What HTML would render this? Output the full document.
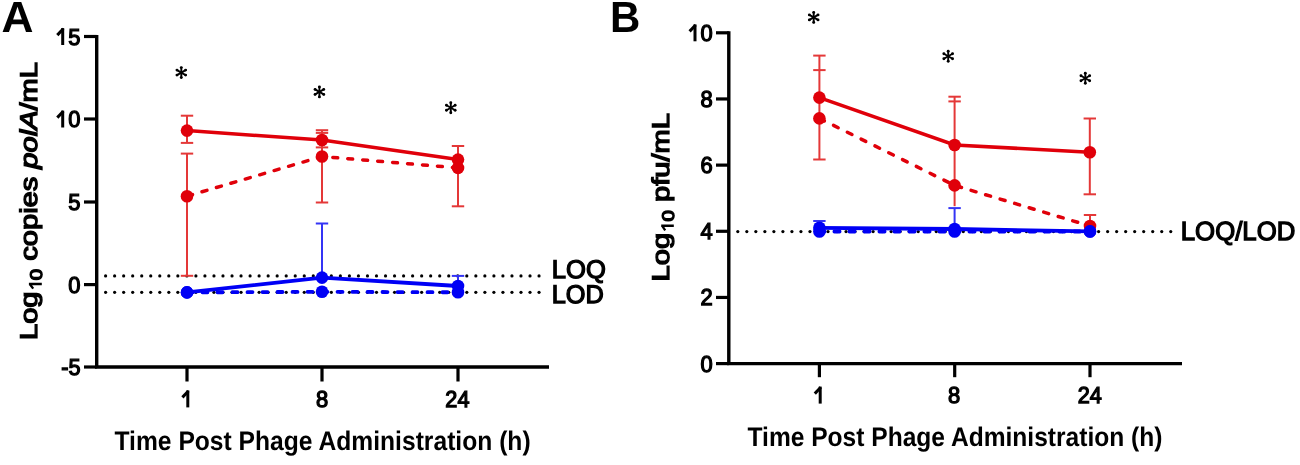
<!DOCTYPE html>
<html><head><meta charset="utf-8"><style>
html,body{margin:0;padding:0;background:#fff;width:1300px;height:465px;overflow:hidden;}
.wrap{position:absolute;left:0;top:0;width:1300px;height:465px;will-change:transform;}
svg{display:block;}
text{font-family:"Liberation Sans", sans-serif;fill:#000;stroke:#000;text-rendering:geometricPrecision;}
</style></head><body>
<div class="wrap"><svg width="1300" height="465" viewBox="0 0 1300 465">
<rect width="1300" height="465" fill="#fff"/>
<path d="M96.7,34.9 V367.0 H549" fill="none" stroke="#000" stroke-width="3.4"/>
<line x1="84" y1="36.5" x2="96.7" y2="36.5" stroke="#000" stroke-width="3.2"/>
<text x="80.5" y="44.5" font-size="23.0" text-anchor="end" font-weight="normal" stroke-width="1.3" textLength="12.2" lengthAdjust="spacingAndGlyphs">5</text>
<path d="M62.70,28.10 V45.00" stroke="#000" stroke-width="3.0" fill="none"/><path d="M57.30,35.10 L63.30,28.70" stroke="#000" stroke-width="3.0" fill="none"/>
<line x1="84" y1="119.0" x2="96.7" y2="119.0" stroke="#000" stroke-width="3.2"/>
<text x="80.5" y="127.0" font-size="23.0" text-anchor="end" font-weight="normal" stroke-width="1.3" textLength="12.2" lengthAdjust="spacingAndGlyphs">0</text>
<path d="M62.70,110.60 V127.50" stroke="#000" stroke-width="3.0" fill="none"/><path d="M57.30,117.60 L63.30,111.20" stroke="#000" stroke-width="3.0" fill="none"/>
<line x1="84" y1="202.0" x2="96.7" y2="202.0" stroke="#000" stroke-width="3.2"/>
<text x="80.5" y="210.0" font-size="23.0" text-anchor="end" font-weight="normal" stroke-width="1.3" textLength="12.2" lengthAdjust="spacingAndGlyphs">5</text>
<line x1="84" y1="284.6" x2="96.7" y2="284.6" stroke="#000" stroke-width="3.2"/>
<text x="80.5" y="292.6" font-size="23.0" text-anchor="end" font-weight="normal" stroke-width="1.3" textLength="12.2" lengthAdjust="spacingAndGlyphs">0</text>
<line x1="84" y1="367.0" x2="96.7" y2="367.0" stroke="#000" stroke-width="3.2"/>
<text x="80.5" y="375.0" font-size="23.0" text-anchor="end" font-weight="normal" stroke-width="1.3" textLength="19.3" lengthAdjust="spacingAndGlyphs">-5</text>
<line x1="187" y1="367.0" x2="187" y2="381.5" stroke="#000" stroke-width="3.2"/>
<path d="M187.80,390.40 V407.40" stroke="#000" stroke-width="3.0" fill="none"/><path d="M182.40,397.40 L188.40,391.00" stroke="#000" stroke-width="3.0" fill="none"/>
<line x1="322" y1="367.0" x2="322" y2="381.5" stroke="#000" stroke-width="3.2"/>
<text x="322" y="406.8" font-size="23.0" text-anchor="middle" font-weight="normal" stroke-width="1.3" textLength="12.2" lengthAdjust="spacingAndGlyphs">8</text>
<line x1="458" y1="367.0" x2="458" y2="381.5" stroke="#000" stroke-width="3.2"/>
<text x="457.4" y="406.8" font-size="23.0" text-anchor="middle" font-weight="normal" stroke-width="1.3" textLength="24.1" lengthAdjust="spacingAndGlyphs">24</text>
<g fill="#000"><circle cx="105.60" cy="275.9" r="1.6"/><circle cx="114.63" cy="275.9" r="1.6"/><circle cx="123.66" cy="275.9" r="1.6"/><circle cx="132.69" cy="275.9" r="1.6"/><circle cx="141.72" cy="275.9" r="1.6"/><circle cx="150.75" cy="275.9" r="1.6"/><circle cx="159.78" cy="275.9" r="1.6"/><circle cx="168.81" cy="275.9" r="1.6"/><circle cx="177.84" cy="275.9" r="1.6"/><circle cx="186.87" cy="275.9" r="1.6"/><circle cx="195.90" cy="275.9" r="1.6"/><circle cx="204.93" cy="275.9" r="1.6"/><circle cx="213.96" cy="275.9" r="1.6"/><circle cx="222.99" cy="275.9" r="1.6"/><circle cx="232.02" cy="275.9" r="1.6"/><circle cx="241.05" cy="275.9" r="1.6"/><circle cx="250.08" cy="275.9" r="1.6"/><circle cx="259.11" cy="275.9" r="1.6"/><circle cx="268.14" cy="275.9" r="1.6"/><circle cx="277.17" cy="275.9" r="1.6"/><circle cx="286.20" cy="275.9" r="1.6"/><circle cx="295.23" cy="275.9" r="1.6"/><circle cx="304.26" cy="275.9" r="1.6"/><circle cx="313.29" cy="275.9" r="1.6"/><circle cx="322.32" cy="275.9" r="1.6"/><circle cx="331.35" cy="275.9" r="1.6"/><circle cx="340.38" cy="275.9" r="1.6"/><circle cx="349.41" cy="275.9" r="1.6"/><circle cx="358.44" cy="275.9" r="1.6"/><circle cx="367.47" cy="275.9" r="1.6"/><circle cx="376.50" cy="275.9" r="1.6"/><circle cx="385.53" cy="275.9" r="1.6"/><circle cx="394.56" cy="275.9" r="1.6"/><circle cx="403.59" cy="275.9" r="1.6"/><circle cx="412.62" cy="275.9" r="1.6"/><circle cx="421.65" cy="275.9" r="1.6"/><circle cx="430.68" cy="275.9" r="1.6"/><circle cx="439.71" cy="275.9" r="1.6"/><circle cx="448.74" cy="275.9" r="1.6"/><circle cx="457.77" cy="275.9" r="1.6"/><circle cx="466.80" cy="275.9" r="1.6"/><circle cx="475.83" cy="275.9" r="1.6"/><circle cx="484.86" cy="275.9" r="1.6"/><circle cx="493.89" cy="275.9" r="1.6"/><circle cx="502.92" cy="275.9" r="1.6"/><circle cx="511.95" cy="275.9" r="1.6"/><circle cx="520.98" cy="275.9" r="1.6"/><circle cx="530.01" cy="275.9" r="1.6"/><circle cx="539.04" cy="275.9" r="1.6"/></g>
<g fill="#000"><circle cx="105.60" cy="292.3" r="1.6"/><circle cx="114.63" cy="292.3" r="1.6"/><circle cx="123.66" cy="292.3" r="1.6"/><circle cx="132.69" cy="292.3" r="1.6"/><circle cx="141.72" cy="292.3" r="1.6"/><circle cx="150.75" cy="292.3" r="1.6"/><circle cx="159.78" cy="292.3" r="1.6"/><circle cx="168.81" cy="292.3" r="1.6"/><circle cx="177.84" cy="292.3" r="1.6"/><circle cx="186.87" cy="292.3" r="1.6"/><circle cx="195.90" cy="292.3" r="1.6"/><circle cx="204.93" cy="292.3" r="1.6"/><circle cx="213.96" cy="292.3" r="1.6"/><circle cx="222.99" cy="292.3" r="1.6"/><circle cx="232.02" cy="292.3" r="1.6"/><circle cx="241.05" cy="292.3" r="1.6"/><circle cx="250.08" cy="292.3" r="1.6"/><circle cx="259.11" cy="292.3" r="1.6"/><circle cx="268.14" cy="292.3" r="1.6"/><circle cx="277.17" cy="292.3" r="1.6"/><circle cx="286.20" cy="292.3" r="1.6"/><circle cx="295.23" cy="292.3" r="1.6"/><circle cx="304.26" cy="292.3" r="1.6"/><circle cx="313.29" cy="292.3" r="1.6"/><circle cx="322.32" cy="292.3" r="1.6"/><circle cx="331.35" cy="292.3" r="1.6"/><circle cx="340.38" cy="292.3" r="1.6"/><circle cx="349.41" cy="292.3" r="1.6"/><circle cx="358.44" cy="292.3" r="1.6"/><circle cx="367.47" cy="292.3" r="1.6"/><circle cx="376.50" cy="292.3" r="1.6"/><circle cx="385.53" cy="292.3" r="1.6"/><circle cx="394.56" cy="292.3" r="1.6"/><circle cx="403.59" cy="292.3" r="1.6"/><circle cx="412.62" cy="292.3" r="1.6"/><circle cx="421.65" cy="292.3" r="1.6"/><circle cx="430.68" cy="292.3" r="1.6"/><circle cx="439.71" cy="292.3" r="1.6"/><circle cx="448.74" cy="292.3" r="1.6"/><circle cx="457.77" cy="292.3" r="1.6"/><circle cx="466.80" cy="292.3" r="1.6"/><circle cx="475.83" cy="292.3" r="1.6"/><circle cx="484.86" cy="292.3" r="1.6"/><circle cx="493.89" cy="292.3" r="1.6"/><circle cx="502.92" cy="292.3" r="1.6"/><circle cx="511.95" cy="292.3" r="1.6"/><circle cx="520.98" cy="292.3" r="1.6"/><circle cx="530.01" cy="292.3" r="1.6"/><circle cx="539.04" cy="292.3" r="1.6"/></g>
<line x1="187" y1="115.7" x2="187" y2="142.9" stroke="#e43838" stroke-width="2.0"/><line x1="180.8" y1="115.7" x2="193.2" y2="115.7" stroke="#e43838" stroke-width="2.0"/><line x1="180.8" y1="142.9" x2="193.2" y2="142.9" stroke="#e43838" stroke-width="2.0"/>
<line x1="322" y1="130.2" x2="322" y2="147.4" stroke="#e43838" stroke-width="2.0"/><line x1="315.8" y1="130.2" x2="328.2" y2="130.2" stroke="#e43838" stroke-width="2.0"/><line x1="315.8" y1="147.4" x2="328.2" y2="147.4" stroke="#e43838" stroke-width="2.0"/>
<line x1="458" y1="146.0" x2="458" y2="173.0" stroke="#e43838" stroke-width="2.0"/><line x1="451.8" y1="146.0" x2="464.2" y2="146.0" stroke="#e43838" stroke-width="2.0"/>
<line x1="187" y1="153.6" x2="187" y2="275.8" stroke="#e43838" stroke-width="2.0"/><line x1="180.8" y1="153.6" x2="193.2" y2="153.6" stroke="#e43838" stroke-width="2.0"/><line x1="180.8" y1="275.8" x2="193.2" y2="275.8" stroke="#e43838" stroke-width="2.0"/>
<line x1="322" y1="132.9" x2="322" y2="202.5" stroke="#e43838" stroke-width="2.0"/><line x1="315.8" y1="132.9" x2="328.2" y2="132.9" stroke="#e43838" stroke-width="2.0"/><line x1="315.8" y1="202.5" x2="328.2" y2="202.5" stroke="#e43838" stroke-width="2.0"/>
<line x1="458" y1="167.9" x2="458" y2="206.3" stroke="#e43838" stroke-width="2.0"/><line x1="451.8" y1="206.3" x2="464.2" y2="206.3" stroke="#e43838" stroke-width="2.0"/>
<polyline points="187,130.6 322,140.0 458,159.6" fill="none" stroke="#e0000a" stroke-width="3.5"/>
<line x1="187" y1="196.2" x2="322" y2="156.5" stroke="#e0000a" stroke-width="3.5" stroke-linecap="round" stroke-dasharray="5.10 9.94" stroke-dashoffset="-0.61"/>
<line x1="322" y1="156.5" x2="458" y2="167.9" stroke="#e0000a" stroke-width="3.5" stroke-linecap="round" stroke-dasharray="4.90 10.10" stroke-dashoffset="-10.85"/>
<circle cx="187" cy="130.6" r="6.3" fill="#e0000a"/><circle cx="322" cy="140.0" r="6.3" fill="#e0000a"/><circle cx="458" cy="159.6" r="6.3" fill="#e0000a"/>
<circle cx="187" cy="196.2" r="6.3" fill="#e0000a"/><circle cx="322" cy="156.5" r="6.3" fill="#e0000a"/><circle cx="458" cy="167.9" r="6.3" fill="#e0000a"/>
<line x1="322" y1="223.5" x2="322" y2="277.6" stroke="#3434f5" stroke-width="2.0"/><line x1="315.8" y1="223.5" x2="328.2" y2="223.5" stroke="#3434f5" stroke-width="2.0"/>
<line x1="458" y1="275.9" x2="458" y2="286" stroke="#3434f5" stroke-width="2.0"/><line x1="451.8" y1="275.9" x2="464.2" y2="275.9" stroke="#3434f5" stroke-width="2.0"/>
<polyline points="187,292.4 322,277.6 458,286.0" fill="none" stroke="#0000f5" stroke-width="3.8"/>
<polyline points="187,292.4 322,291.8 458,292.3" fill="none" stroke="#0000f5" stroke-width="3.8" stroke-dasharray="5.0 10.0" stroke-dashoffset="-0.5" stroke-linecap="round"/>
<circle cx="187" cy="292.4" r="6.3" fill="#0000f5"/><circle cx="322" cy="277.6" r="6.3" fill="#0000f5"/><circle cx="458" cy="286.0" r="6.3" fill="#0000f5"/>
<circle cx="187" cy="292.4" r="6.3" fill="#0000f5"/><circle cx="322" cy="291.8" r="6.3" fill="#0000f5"/><circle cx="458" cy="292.3" r="6.3" fill="#0000f5"/>
<g stroke="#000" stroke-width="1.9" stroke-linecap="round"><line x1="181.30" y1="67.60" x2="181.30" y2="77.60"/><line x1="176.97" y1="70.10" x2="185.63" y2="75.10"/><line x1="185.63" y1="70.10" x2="176.97" y2="75.10"/></g><g fill="#000"><circle cx="181.30" cy="67.60" r="1.45"/><circle cx="181.30" cy="77.60" r="1.45"/><circle cx="176.97" cy="70.10" r="1.45"/><circle cx="185.63" cy="75.10" r="1.45"/><circle cx="185.63" cy="70.10" r="1.45"/><circle cx="176.97" cy="75.10" r="1.45"/></g>
<g stroke="#000" stroke-width="1.9" stroke-linecap="round"><line x1="319.40" y1="86.90" x2="319.40" y2="96.90"/><line x1="315.07" y1="89.40" x2="323.73" y2="94.40"/><line x1="323.73" y1="89.40" x2="315.07" y2="94.40"/></g><g fill="#000"><circle cx="319.40" cy="86.90" r="1.45"/><circle cx="319.40" cy="96.90" r="1.45"/><circle cx="315.07" cy="89.40" r="1.45"/><circle cx="323.73" cy="94.40" r="1.45"/><circle cx="323.73" cy="89.40" r="1.45"/><circle cx="315.07" cy="94.40" r="1.45"/></g>
<g stroke="#000" stroke-width="1.9" stroke-linecap="round"><line x1="450.80" y1="102.70" x2="450.80" y2="112.70"/><line x1="446.47" y1="105.20" x2="455.13" y2="110.20"/><line x1="455.13" y1="105.20" x2="446.47" y2="110.20"/></g><g fill="#000"><circle cx="450.80" cy="102.70" r="1.45"/><circle cx="450.80" cy="112.70" r="1.45"/><circle cx="446.47" cy="105.20" r="1.45"/><circle cx="455.13" cy="110.20" r="1.45"/><circle cx="455.13" cy="105.20" r="1.45"/><circle cx="446.47" cy="110.20" r="1.45"/></g>
<text x="551.8" y="278.0" font-size="25.6" text-anchor="start" font-weight="normal" stroke-width="1.3" textLength="54" lengthAdjust="spacingAndGlyphs">LOQ</text>
<text x="551.7" y="303.1" font-size="25.6" text-anchor="start" font-weight="normal" stroke-width="1.3" textLength="52" lengthAdjust="spacingAndGlyphs">LOD</text>
<text x="1.4" y="32.4" font-size="43.6" text-anchor="start" font-weight="bold" stroke-width="0" textLength="32.0" lengthAdjust="spacingAndGlyphs">A</text>
<text x="114.5" y="449.6" font-size="26.8" text-anchor="start" font-weight="bold" stroke-width="0" textLength="416.1" lengthAdjust="spacingAndGlyphs">Time Post Phage Administration (h)</text>
<g transform="translate(37,340) rotate(-90)"><text x="0" y="0" font-size="24.2" stroke-width="1.3" textLength="278" lengthAdjust="spacingAndGlyphs">Log<tspan font-size="17" dy="5">&#x2007;0</tspan><tspan dy="-5"> copies </tspan><tspan font-style="italic">polA</tspan>/mL</text></g>
<path d="M728.8,31.199999999999996 V363.6 H1182" fill="none" stroke="#000" stroke-width="3.4"/>
<line x1="716" y1="32.80" x2="728.8" y2="32.80" stroke="#000" stroke-width="3.2"/>
<text x="712.6" y="40.80000000000007" font-size="23.0" text-anchor="end" font-weight="normal" stroke-width="1.3" textLength="12.2" lengthAdjust="spacingAndGlyphs">0</text>
<path d="M695.00,24.40 V41.30" stroke="#000" stroke-width="3.0" fill="none"/><path d="M689.60,31.40 L695.60,25.00" stroke="#000" stroke-width="3.0" fill="none"/>
<line x1="716" y1="98.96" x2="728.8" y2="98.96" stroke="#000" stroke-width="3.2"/>
<text x="712.6" y="106.96000000000004" font-size="23.0" text-anchor="end" font-weight="normal" stroke-width="1.3" textLength="12.2" lengthAdjust="spacingAndGlyphs">8</text>
<line x1="716" y1="165.12" x2="728.8" y2="165.12" stroke="#000" stroke-width="3.2"/>
<text x="712.6" y="173.12000000000003" font-size="23.0" text-anchor="end" font-weight="normal" stroke-width="1.3" textLength="12.2" lengthAdjust="spacingAndGlyphs">6</text>
<line x1="716" y1="231.28" x2="728.8" y2="231.28" stroke="#000" stroke-width="3.2"/>
<text x="712.6" y="239.28000000000003" font-size="23.0" text-anchor="end" font-weight="normal" stroke-width="1.3" textLength="12.2" lengthAdjust="spacingAndGlyphs">4</text>
<line x1="716" y1="297.44" x2="728.8" y2="297.44" stroke="#000" stroke-width="3.2"/>
<text x="712.6" y="305.44000000000005" font-size="23.0" text-anchor="end" font-weight="normal" stroke-width="1.3" textLength="12.2" lengthAdjust="spacingAndGlyphs">2</text>
<line x1="716" y1="363.60" x2="728.8" y2="363.60" stroke="#000" stroke-width="3.2"/>
<text x="712.6" y="371.6" font-size="23.0" text-anchor="end" font-weight="normal" stroke-width="1.3" textLength="12.2" lengthAdjust="spacingAndGlyphs">0</text>
<line x1="819.4" y1="363.6" x2="819.4" y2="377.2" stroke="#000" stroke-width="3.2"/>
<path d="M820.20,386.60 V403.60" stroke="#000" stroke-width="3.0" fill="none"/><path d="M814.80,393.60 L820.80,387.20" stroke="#000" stroke-width="3.0" fill="none"/>
<line x1="954.7" y1="363.6" x2="954.7" y2="377.2" stroke="#000" stroke-width="3.2"/>
<text x="954.1" y="402.9" font-size="23.0" text-anchor="middle" font-weight="normal" stroke-width="1.3" textLength="12.2" lengthAdjust="spacingAndGlyphs">8</text>
<line x1="1090" y1="363.6" x2="1090" y2="377.2" stroke="#000" stroke-width="3.2"/>
<text x="1089.7" y="402.9" font-size="23.0" text-anchor="middle" font-weight="normal" stroke-width="1.3" textLength="24.1" lengthAdjust="spacingAndGlyphs">24</text>
<g fill="#000"><circle cx="737.80" cy="231.6" r="1.6"/><circle cx="746.82" cy="231.6" r="1.6"/><circle cx="755.84" cy="231.6" r="1.6"/><circle cx="764.86" cy="231.6" r="1.6"/><circle cx="773.88" cy="231.6" r="1.6"/><circle cx="782.90" cy="231.6" r="1.6"/><circle cx="791.92" cy="231.6" r="1.6"/><circle cx="800.94" cy="231.6" r="1.6"/><circle cx="809.96" cy="231.6" r="1.6"/><circle cx="818.98" cy="231.6" r="1.6"/><circle cx="828.00" cy="231.6" r="1.6"/><circle cx="837.02" cy="231.6" r="1.6"/><circle cx="846.04" cy="231.6" r="1.6"/><circle cx="855.06" cy="231.6" r="1.6"/><circle cx="864.08" cy="231.6" r="1.6"/><circle cx="873.10" cy="231.6" r="1.6"/><circle cx="882.12" cy="231.6" r="1.6"/><circle cx="891.14" cy="231.6" r="1.6"/><circle cx="900.16" cy="231.6" r="1.6"/><circle cx="909.18" cy="231.6" r="1.6"/><circle cx="918.20" cy="231.6" r="1.6"/><circle cx="927.22" cy="231.6" r="1.6"/><circle cx="936.24" cy="231.6" r="1.6"/><circle cx="945.26" cy="231.6" r="1.6"/><circle cx="954.28" cy="231.6" r="1.6"/><circle cx="963.30" cy="231.6" r="1.6"/><circle cx="972.32" cy="231.6" r="1.6"/><circle cx="981.34" cy="231.6" r="1.6"/><circle cx="990.36" cy="231.6" r="1.6"/><circle cx="999.38" cy="231.6" r="1.6"/><circle cx="1008.40" cy="231.6" r="1.6"/><circle cx="1017.42" cy="231.6" r="1.6"/><circle cx="1026.44" cy="231.6" r="1.6"/><circle cx="1035.46" cy="231.6" r="1.6"/><circle cx="1044.48" cy="231.6" r="1.6"/><circle cx="1053.50" cy="231.6" r="1.6"/><circle cx="1062.52" cy="231.6" r="1.6"/><circle cx="1071.54" cy="231.6" r="1.6"/><circle cx="1080.56" cy="231.6" r="1.6"/><circle cx="1089.58" cy="231.6" r="1.6"/><circle cx="1098.60" cy="231.6" r="1.6"/><circle cx="1107.62" cy="231.6" r="1.6"/><circle cx="1116.64" cy="231.6" r="1.6"/><circle cx="1125.66" cy="231.6" r="1.6"/><circle cx="1134.68" cy="231.6" r="1.6"/><circle cx="1143.70" cy="231.6" r="1.6"/><circle cx="1152.72" cy="231.6" r="1.6"/><circle cx="1161.74" cy="231.6" r="1.6"/><circle cx="1170.76" cy="231.6" r="1.6"/></g>
<line x1="819.4" y1="55.6" x2="819.4" y2="159.5" stroke="#e43838" stroke-width="2.0"/><line x1="813.1999999999999" y1="55.6" x2="825.6" y2="55.6" stroke="#e43838" stroke-width="2.0"/><line x1="813.1999999999999" y1="70.1" x2="825.6" y2="70.1" stroke="#e43838" stroke-width="2.0"/><line x1="813.1999999999999" y1="159.5" x2="825.6" y2="159.5" stroke="#e43838" stroke-width="2.0"/>
<line x1="954.6" y1="96.7" x2="954.6" y2="206.2" stroke="#e43838" stroke-width="2.0"/><line x1="948.4" y1="96.7" x2="960.8000000000001" y2="96.7" stroke="#e43838" stroke-width="2.0"/><line x1="948.4" y1="101.4" x2="960.8000000000001" y2="101.4" stroke="#e43838" stroke-width="2.0"/>
<line x1="1089.8" y1="118.5" x2="1089.8" y2="194.3" stroke="#e43838" stroke-width="2.0"/><line x1="1083.6" y1="118.5" x2="1096.0" y2="118.5" stroke="#e43838" stroke-width="2.0"/><line x1="1083.6" y1="194.3" x2="1096.0" y2="194.3" stroke="#e43838" stroke-width="2.0"/>
<line x1="1090" y1="215" x2="1090" y2="226" stroke="#e43838" stroke-width="2.0"/><line x1="1083.8" y1="215" x2="1096.2" y2="215" stroke="#e43838" stroke-width="2.0"/>
<polyline points="819.4,97.6 954.6,145.0 1089.8,152.2" fill="none" stroke="#e0000a" stroke-width="3.5"/>
<line x1="819.4" y1="118.4" x2="954.6" y2="185.4" stroke="#e0000a" stroke-width="3.5" stroke-linecap="round" stroke-dasharray="5.20 10.20" stroke-dashoffset="-0.35"/>
<line x1="954.6" y1="185.4" x2="1090" y2="226.0" stroke="#e0000a" stroke-width="3.5" stroke-linecap="round" stroke-dasharray="5.10 10.06" stroke-dashoffset="-2.09"/>
<circle cx="819.4" cy="97.6" r="6.3" fill="#e0000a"/><circle cx="954.6" cy="145.0" r="6.3" fill="#e0000a"/><circle cx="1089.8" cy="152.2" r="6.3" fill="#e0000a"/>
<circle cx="819.4" cy="118.4" r="6.3" fill="#e0000a"/><circle cx="954.6" cy="185.4" r="6.3" fill="#e0000a"/><circle cx="1090" cy="226.0" r="6.3" fill="#e0000a"/>
<line x1="819.4" y1="221" x2="819.4" y2="228" stroke="#3434f5" stroke-width="2.0"/><line x1="813.1999999999999" y1="221" x2="825.6" y2="221" stroke="#3434f5" stroke-width="2.0"/>
<line x1="954.6" y1="208.1" x2="954.6" y2="229" stroke="#3434f5" stroke-width="2.0"/><line x1="948.4" y1="208.1" x2="960.8000000000001" y2="208.1" stroke="#3434f5" stroke-width="2.0"/>
<polyline points="819.4,227.8 954.6,229.0 1090,231.4" fill="none" stroke="#0000f5" stroke-width="3.8"/>
<polyline points="819.4,231.5 954.6,231.5 1090,231.5" fill="none" stroke="#0000f5" stroke-width="3.8" stroke-dasharray="5.2 9.8" stroke-dashoffset="0" stroke-linecap="round"/>
<circle cx="819.4" cy="227.8" r="6.3" fill="#0000f5"/><circle cx="954.6" cy="229.0" r="6.3" fill="#0000f5"/><circle cx="1090" cy="231.4" r="6.3" fill="#0000f5"/>
<circle cx="819.4" cy="231.5" r="6.3" fill="#0000f5"/><circle cx="954.6" cy="231.5" r="6.3" fill="#0000f5"/><circle cx="1090" cy="231.5" r="6.3" fill="#0000f5"/>
<g stroke="#000" stroke-width="1.9" stroke-linecap="round"><line x1="813.70" y1="12.40" x2="813.70" y2="22.40"/><line x1="809.37" y1="14.90" x2="818.03" y2="19.90"/><line x1="818.03" y1="14.90" x2="809.37" y2="19.90"/></g><g fill="#000"><circle cx="813.70" cy="12.40" r="1.45"/><circle cx="813.70" cy="22.40" r="1.45"/><circle cx="809.37" cy="14.90" r="1.45"/><circle cx="818.03" cy="19.90" r="1.45"/><circle cx="818.03" cy="14.90" r="1.45"/><circle cx="809.37" cy="19.90" r="1.45"/></g>
<g stroke="#000" stroke-width="1.9" stroke-linecap="round"><line x1="948.20" y1="51.30" x2="948.20" y2="61.30"/><line x1="943.87" y1="53.80" x2="952.53" y2="58.80"/><line x1="952.53" y1="53.80" x2="943.87" y2="58.80"/></g><g fill="#000"><circle cx="948.20" cy="51.30" r="1.45"/><circle cx="948.20" cy="61.30" r="1.45"/><circle cx="943.87" cy="53.80" r="1.45"/><circle cx="952.53" cy="58.80" r="1.45"/><circle cx="952.53" cy="53.80" r="1.45"/><circle cx="943.87" cy="58.80" r="1.45"/></g>
<g stroke="#000" stroke-width="1.9" stroke-linecap="round"><line x1="1085.30" y1="73.20" x2="1085.30" y2="83.20"/><line x1="1080.97" y1="75.70" x2="1089.63" y2="80.70"/><line x1="1089.63" y1="75.70" x2="1080.97" y2="80.70"/></g><g fill="#000"><circle cx="1085.30" cy="73.20" r="1.45"/><circle cx="1085.30" cy="83.20" r="1.45"/><circle cx="1080.97" cy="75.70" r="1.45"/><circle cx="1089.63" cy="80.70" r="1.45"/><circle cx="1089.63" cy="75.70" r="1.45"/><circle cx="1080.97" cy="80.70" r="1.45"/></g>
<text x="1180.8" y="239.5" font-size="26.2" text-anchor="start" font-weight="normal" stroke-width="1.3" textLength="114.5" lengthAdjust="spacingAndGlyphs">LOQ/LOD</text>
<text x="610.0" y="32.4" font-size="43.6" text-anchor="start" font-weight="bold" stroke-width="0" textLength="30.3" lengthAdjust="spacingAndGlyphs">B</text>
<text x="747.5" y="446.0" font-size="26.8" text-anchor="start" font-weight="bold" stroke-width="0" textLength="415.0" lengthAdjust="spacingAndGlyphs">Time Post Phage Administration (h)</text>
<g transform="translate(669,281.4) rotate(-90)"><text x="0" y="0" font-size="24.2" stroke-width="1.3" textLength="168.4" lengthAdjust="spacingAndGlyphs">Log<tspan font-size="17" dy="5">&#x2007;0</tspan><tspan dy="-5"> pfu/mL</tspan></text></g>
<path d="M28.9,284.0 H41.8 M29.9,284.2 L33.2,288.6" stroke="#000" stroke-width="2.3" fill="none"/>
<path d="M661.2,225.75 H673.8 M662.2,225.95 L665.2,230.3" stroke="#000" stroke-width="2.3" fill="none"/>
</svg></div>
</body></html>
